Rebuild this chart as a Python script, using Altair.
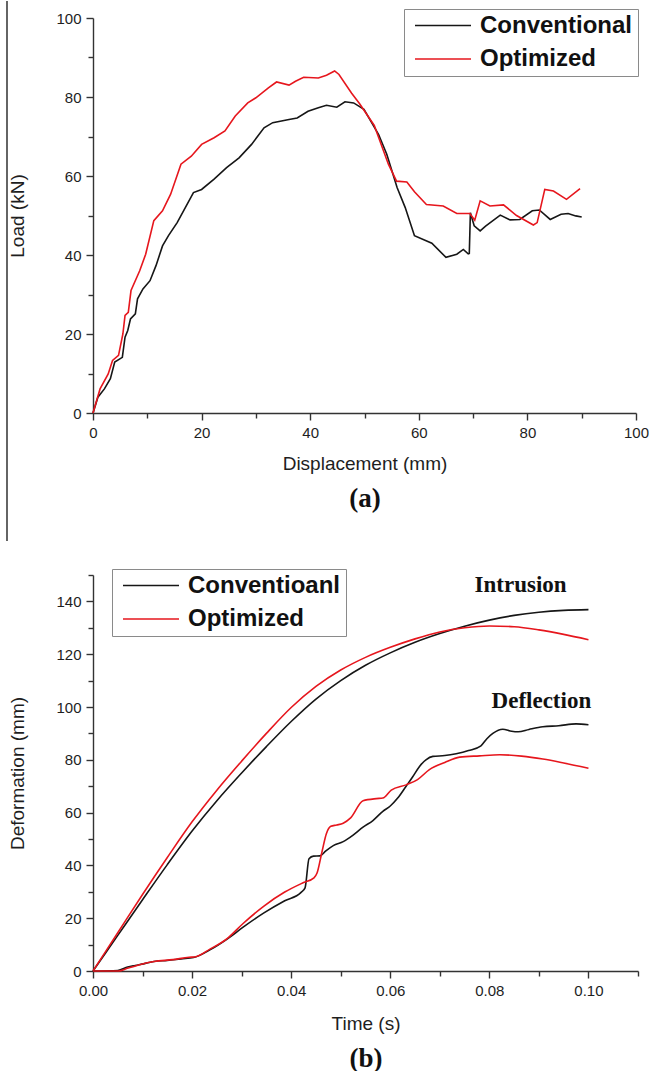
import altair as alt
import pandas as pd

# ---------------- (a) load vs. displacement ----------------
conv_disp = [0, 0.9, 2.1, 3.2, 4.0, 5.4, 5.9, 6.4, 6.9, 7.8, 8.2, 9.2, 10.5, 11.6, 12.8,
             13.9, 15.5, 17.0, 18.5, 20.0, 22.3, 24.6, 26.9, 29.2, 31.5, 33.1, 36.1, 37.6,
             39.6, 41.5, 43.0, 44.9, 46.4, 48.0, 49.9, 52.6, 54.1, 56.0, 57.5, 59.2, 62.4,
             65.0, 67.0, 68.2, 69.1, 69.3, 69.5, 70.2, 71.3, 72.3, 75.0, 76.8, 78.6, 80.9,
             82.2, 84.2, 86.2, 87.5, 88.9, 90.0]
conv_load = [0, 4.0, 6.1, 8.7, 12.9, 14.1, 19.2, 20.9, 23.8, 25.1, 28.9, 31.4, 33.5, 37.3,
             42.3, 44.9, 48.2, 52.0, 55.8, 56.6, 59.2, 62.1, 64.6, 68.0, 72.2, 73.5, 74.3,
             74.7, 76.4, 77.3, 77.9, 77.4, 78.8, 78.5, 76.9, 70.5, 65.5, 57.1, 52.0, 44.9,
             43.0, 39.4, 40.2, 41.4, 40.3, 40.4, 50.7, 47.4, 46.1, 47.3, 50.1, 48.9, 49.0,
             51.2, 51.4, 49.0, 50.3, 50.5, 49.9, 49.6]

opt_disp = [0, 1.3, 2.8, 3.6, 4.7, 5.5, 5.9, 6.5, 7.0, 8.6, 9.7, 11.2, 12.8, 14.3, 16.2,
            18.1, 20.0, 22.3, 24.3, 26.2, 28.5, 30.0, 32.3, 33.8, 36.1, 37.3, 38.8, 41.5,
            43.0, 44.5, 45.3, 47.6, 49.1, 51.8, 54.4, 55.9, 57.8, 59.2, 61.4, 64.5, 67.0,
            69.4, 70.3, 71.3, 73.1, 75.6, 78.0, 81.1, 81.8, 83.2, 84.8, 87.2, 89.7]
opt_load = [0, 6.1, 9.9, 13.3, 14.6, 20.0, 24.7, 25.5, 31.0, 36.0, 40.2, 48.7, 51.2, 55.4,
            63.0, 65.0, 68.0, 69.7, 71.4, 75.2, 78.5, 79.8, 82.3, 83.8, 83.0, 84.0, 85.0,
            84.8, 85.5, 86.6, 85.7, 81.0, 78.3, 72.8, 63.0, 58.7, 58.5, 56.0, 52.8, 52.4,
            50.5, 50.5, 48.8, 53.7, 52.4, 52.7, 50.0, 47.6, 48.2, 56.6, 56.2, 54.1, 56.8]

# ---------------- (b) deformation vs. time ----------------
intr_t = [0, 0.005, 0.01, 0.015, 0.02, 0.025, 0.03, 0.035, 0.04, 0.045, 0.05, 0.055,
          0.06, 0.065, 0.07, 0.075, 0.08, 0.085, 0.09, 0.095, 0.1]
intr_conv = [0, 13.5, 27.0, 40.3, 53.0, 64.5, 75.0, 85.0, 94.5, 103.0, 110.0, 115.8,
             120.5, 124.5, 127.8, 130.6, 132.9, 134.7, 135.9, 136.6, 136.9]
intr_opt = [0, 14.5, 29.0, 43.0, 56.5, 68.5, 79.5, 90.0, 99.8, 107.8, 114.0, 118.8,
            122.6, 125.8, 128.4, 130.0, 130.7, 130.4, 129.2, 127.5, 125.5]

defl_conv_t = [0, 0.005, 0.007, 0.0085, 0.0102, 0.0123, 0.015, 0.0178, 0.0203, 0.0236,
               0.027, 0.0303, 0.0345, 0.0387, 0.042, 0.0428, 0.0436, 0.0445, 0.0458, 0.047,
               0.0485, 0.0505, 0.0525, 0.0545, 0.0565, 0.0585, 0.06, 0.0615, 0.0632, 0.0645,
               0.0659, 0.0672, 0.0686, 0.071, 0.0733, 0.0758, 0.0783, 0.0795, 0.0807, 0.0827,
               0.0845, 0.0858, 0.088, 0.0908, 0.094, 0.0975, 0.1]
defl_conv = [0, 0.2, 1.5, 2.1, 2.7, 3.6, 4.0, 4.6, 5.1, 8.0, 12.0, 16.6, 22.0, 26.6, 29.8,
             31.5, 42.5, 43.5, 43.6, 45.5, 47.5, 49.0, 51.5, 54.5, 57.0, 60.5, 62.5, 65.5,
             70.0, 73.5, 77.5, 80.0, 81.3, 81.6, 82.3, 83.5, 85.3, 88.0, 90.0, 91.6, 90.8,
             90.6, 91.5, 92.5, 92.9, 93.6, 93.3]

defl_opt_t = [0, 0.0052, 0.0069, 0.0094, 0.0123, 0.0161, 0.0194, 0.0205, 0.0236, 0.027,
              0.0303, 0.0345, 0.0387, 0.0425, 0.0446, 0.0452, 0.0462, 0.0471, 0.048, 0.0492,
              0.0505, 0.052, 0.0545, 0.0572, 0.0585, 0.0602, 0.0632, 0.0655, 0.0679, 0.071,
              0.074, 0.078, 0.0821, 0.0865, 0.0908, 0.095, 0.1]
defl_opt = [0, 0, 1.0, 2.4, 3.6, 4.3, 5.2, 5.3, 8.3, 12.2, 18.0, 24.6, 29.9, 33.5, 35.3,
            37.0, 45.0, 52.0, 54.8, 55.3, 56.0, 58.0, 64.5, 65.3, 65.5, 68.5, 70.5, 72.5,
            76.3, 79.0, 81.0, 81.5, 81.9, 81.4, 80.3, 78.8, 76.8]

series_a = ["Conventional", "Optimized"]
series_b = ["Conventioanl", "Optimized"]
colors = ["#161616", "#e6161d"]

annot_text = ["Intrusion", "Deflection"]
annot_t = [0.0863, 0.0905]
annot_d = [146.2, 102.3]

x_major_a = [0, 20, 40, 60, 80, 100]
x_minor_a = [10, 30, 50, 70, 90]
y_major_a = [0, 20, 40, 60, 80, 100]
y_minor_a = [10, 30, 50, 70, 90]
x_major_b = [0.0, 0.02, 0.04, 0.06, 0.08, 0.10]
x_minor_b = [0.01, 0.03, 0.05, 0.07, 0.09, 0.11]
y_major_b = [0, 20, 40, 60, 80, 100, 120, 140]
y_minor_b = [10, 30, 50, 70, 90, 110, 130, 150]


def frame(xs, ys, series, group):
    return pd.DataFrame({"x": xs, "y": ys, "series": series, "group": group,
                         "i": list(range(len(xs)))})


df_a = pd.concat([frame(conv_disp, conv_load, series_a[0], "a0"),
                  frame(opt_disp, opt_load, series_a[1], "a1")], ignore_index=True)
df_b = pd.concat([frame(intr_t, intr_conv, series_b[0], "intr_c"),
                  frame(intr_t, intr_opt, series_b[1], "intr_o"),
                  frame(defl_conv_t, defl_conv, series_b[0], "defl_c"),
                  frame(defl_opt_t, defl_opt, series_b[1], "defl_o")], ignore_index=True)
df_annot = pd.DataFrame({"x": annot_t, "y": annot_d, "text": annot_text})
df_guide = pd.DataFrame({"x": [0], "y": [0]})

SANS = "Liberation Sans"
SERIF = "Liberation Serif"
AXC = "#333333"
common = dict(domainColor=AXC, domainWidth=1.4, tickColor=AXC, tickWidth=1.4,
              labelFont=SANS, labelFontSize=15, labelColor="#1e1e1e", labelFlush=False,
              titleFont=SANS, titleFontSize=19, titleFontWeight="normal",
              titleColor="#1e1e1e", grid=False)


def legend(x, y):
    return alt.Legend(title=None, orient="none", legendX=x, legendY=y,
                      symbolType="stroke", symbolSize=3136, symbolStrokeWidth=1.6,
                      labelFont=SANS, labelFontSize=24, labelFontWeight="bold",
                      labelColor="#111", labelOffset=8, labelLimit=400,
                      strokeColor="#8a8a8a", fillColor="white", padding=5,
                      rowPadding=8.5, symbolOffset=5, clipHeight=23)


def panel(df, xdom, ydom, w, h, xmaj, xmin, ymaj, ymin, xtitle, ytitle, caption,
          cap_y, xtitle_y, xfmt, series, leg_xy, extra=None, interp="linear"):
    xs = alt.Scale(domain=xdom, nice=False, zero=False)
    ys = alt.Scale(domain=ydom, nice=False, zero=False)
    lines = alt.Chart(df).mark_line(strokeWidth=1.6, interpolate=interp).encode(
        x=alt.X("x:Q", scale=xs, axis=alt.Axis(
            values=xmaj, format=xfmt, tickSize=7, labelPadding=5, title=xtitle,
            titleY=xtitle_y, titleBaseline="middle", orient="bottom", **common)),
        y=alt.Y("y:Q", scale=ys, axis=alt.Axis(
            values=ymaj, tickSize=7, labelPadding=5, title=ytitle, titleX=-76,
            titleBaseline="middle", titleAngle=270, orient="left", **common)),
        color=alt.Color("series:N", scale=alt.Scale(domain=series, range=colors),
                        legend=legend(*leg_xy)),
        detail="group:N",
        order="i:Q",
    )
    # minor ticks plus the panel caption, carried by a second pair of axes
    guide = alt.Chart(df_guide).mark_point(opacity=0).encode(
        x=alt.X("x:Q", scale=xs, axis=alt.Axis(
            values=xmin, tickSize=5, labels=False, domain=False, orient="bottom",
            title=caption, titleY=cap_y, titleBaseline="middle", titleFont=SERIF,
            titleFontSize=27, titleFontWeight="bold", titleColor="#111",
            tickColor=AXC, tickWidth=1.4, grid=False)),
        y=alt.Y("y:Q", scale=ys, axis=alt.Axis(
            values=ymin, tickSize=5, labels=False, domain=False, orient="left",
            title=None, tickColor=AXC, tickWidth=1.4, grid=False)),
    )
    layers = [lines, guide]
    if extra is not None:
        layers.append(extra)
    return alt.layer(*layers).resolve_scale(x="independent", y="independent").resolve_axis(
        x="independent", y="independent").properties(width=w, height=h)


# thin page border line at the left of the upper figure
border = alt.Chart(df_guide).mark_rule(color="#111", strokeWidth=1.3).encode(
    x=alt.value(-86), y=alt.value(-17), y2=alt.value(523))

chart_a = panel(df_a, [0, 100], [0, 100], 543, 395, x_major_a, x_minor_a, y_major_a,
                y_minor_a, "Displacement (mm)", "Load (kN)", "(a)", 85, 50, "d",
                series_a, (311, -9), extra=border)

annot = alt.Chart(df_annot).mark_text(font=SERIF, fontSize=23, fontWeight="bold",
                                      color="#111").encode(
    x=alt.X("x:Q", scale=alt.Scale(domain=[0, 0.11], nice=False, zero=False), axis=None),
    y=alt.Y("y:Q", scale=alt.Scale(domain=[0, 150], nice=False, zero=False), axis=None),
    text="text:N")

chart_b = panel(df_b, [0, 0.11], [0, 150], 545, 396, x_major_b, x_minor_b, y_major_b,
                y_minor_b, "Time (s)", "Deformation (mm)", "(b)", 87, 52, ".2f",
                series_b, (19, -6), extra=annot, interp="monotone")

chart = alt.vconcat(chart_a, chart_b, spacing=26).resolve_scale(
    color="independent").properties(
    padding={"left": 6, "top": 0, "right": 0, "bottom": 0},
    background="white",
).configure_view(stroke=None)

chart.save("out.html", embed_options={"renderer": "svg", "actions": False})
